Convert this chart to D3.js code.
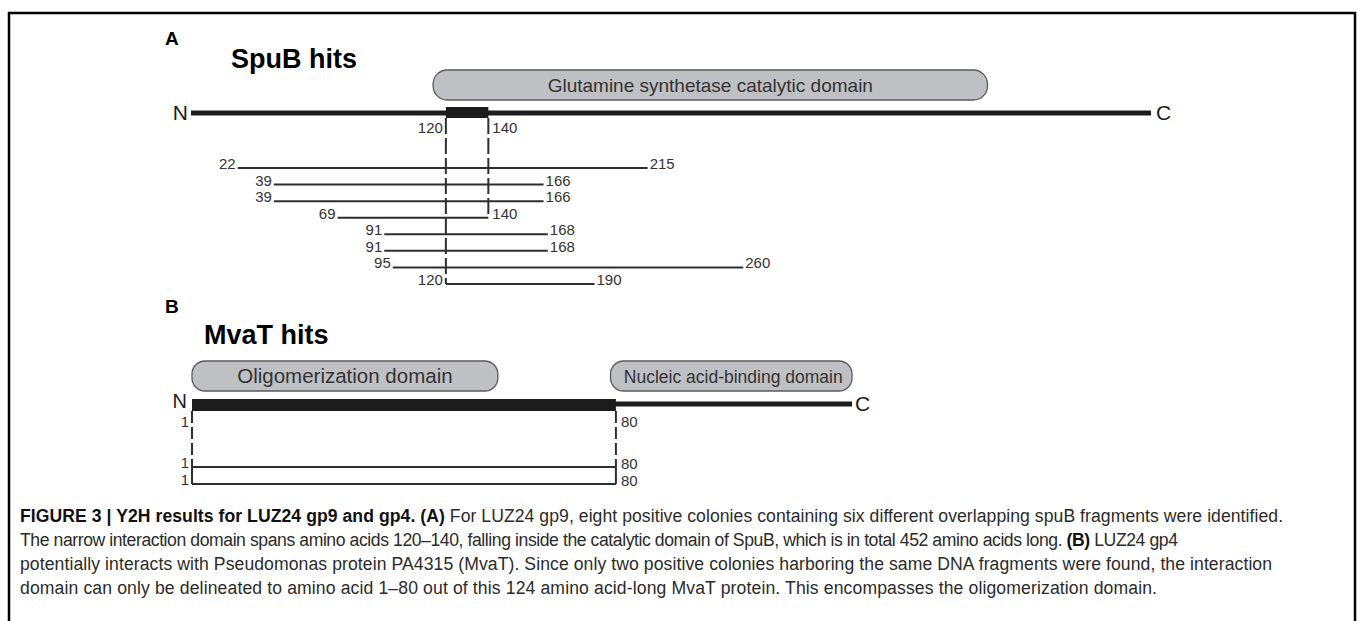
<!DOCTYPE html>
<html>
<head>
<meta charset="utf-8">
<script src="https://cdn.jsdelivr.net/npm/d3@7"></script>
<style>
  body { margin: 0; background: #fff; }
  svg { display: block; }
  text { font-family: "Liberation Sans", Arial, Helvetica, sans-serif; }
</style>
</head>
<body>
<svg id="fig" width="1358" height="621"></svg>
<script>
// ---- SpuB (452 aa) two-hybrid prey fragments ----
const spubLength = 452;
const spubCore = [120, 140];
const spubDomainName = "Glutamine synthetase catalytic domain";
const spubDomainSpan = [114, 375];
const spubFrom = [22, 39, 39, 69, 91, 91, 95, 120];
const spubTo = [215, 166, 166, 140, 168, 168, 260, 190];

// ---- MvaT (124 aa) two-hybrid prey fragments ----
const mvatLength = 124;
const mvatCore = [1, 80];
const mvatDomainNames = ["Oligomerization domain", "Nucleic acid-binding domain"];
const mvatDomainFrom = [1, 79];
const mvatDomainTo = [58, 124];
const mvatFrom = [1, 1];
const mvatTo = [80, 80];

// ---- caption: each line is a list of [text, bold] runs ----
const captionLines = [
  [["FIGURE 3 | Y2H results for LUZ24 gp9 and gp4. (A)", true],
   [" For LUZ24 gp9, eight positive colonies containing six different overlapping spuB fragments were identified.", false]],
  [["The narrow interaction domain spans amino acids 120\u2013140, falling inside the catalytic domain of SpuB, which is in total 452 amino acids long. ", false],
   ["(B)", true], [" LUZ24 gp4", false]],
  [["potentially interacts with Pseudomonas protein PA4315 (MvaT). Since only two positive colonies harboring the same DNA fragments were found, the interaction", false]],
  [["domain can only be delineated to amino acid 1\u201380 out of this 124 amino acid-long MvaT protein. This encompasses the oligomerization domain.", false]]
];
// right edge of each caption line
const captionRight = [1283, 1178, 1272, 1157];

const ink = "#1c1c1c", line = "#2e2e2e", boxFill = "#bfc0c4", boxStroke = "#5a5a5a";
const svg = d3.select("#fig");

// frame around figure
svg.append("path")
  .attr("d", "M9,621V13H1355V621")
  .attr("fill", "none").attr("stroke", "#000").attr("stroke-width", 2.5);

// ================= Panel A =================
const gA = svg.append("g");
const xA = d3.scaleLinear().domain([0, spubLength]).range([191, 1151]);
const yA = d3.scalePoint().domain(d3.range(spubFrom.length)).range([168, 284]);
const backA = 113;
const numSize = 15;

gA.append("text").attr("x", 165).attr("y", 45).attr("font-size", 19).attr("font-weight", 900).attr("fill", "#000").text("A");
gA.append("text").attr("x", 231).attr("y", 68).attr("font-size", 27).attr("font-weight", 700).attr("fill", "#000").text("SpuB hits");

// catalytic domain
gA.append("rect")
  .attr("x", xA(spubDomainSpan[0])).attr("y", 70)
  .attr("width", xA(spubDomainSpan[1]) - xA(spubDomainSpan[0])).attr("height", 30)
  .attr("rx", 14).attr("fill", boxFill).attr("stroke", boxStroke).attr("stroke-width", 1.3);
gA.append("text")
  .attr("x", (xA(spubDomainSpan[0]) + xA(spubDomainSpan[1])) / 2).attr("y", 92)
  .attr("text-anchor", "middle").attr("font-size", 19).attr("fill", "#333").text(spubDomainName);

// backbone
gA.append("line").attr("x1", xA(0)).attr("x2", xA(spubLength)).attr("y1", backA).attr("y2", backA)
  .attr("stroke", ink).attr("stroke-width", 5);
gA.append("rect").attr("x", xA(spubCore[0])).attr("y", backA - 6)
  .attr("width", xA(spubCore[1]) - xA(spubCore[0])).attr("height", 11).attr("fill", ink);
gA.append("text").attr("x", xA(0) - 3).attr("y", 120).attr("text-anchor", "end").attr("font-size", 21).attr("fill", ink).text("N");
gA.append("text").attr("x", xA(spubLength) + 5).attr("y", 120).attr("font-size", 21).attr("fill", ink).text("C");

// interaction core boundaries
const lastCoreRow = spubFrom.findIndex(d => d === spubCore[0]);
const lastEndRow = spubTo.findIndex(d => d === spubCore[1]);
gA.append("line").attr("x1", xA(spubCore[0])).attr("x2", xA(spubCore[0]))
  .attr("y1", backA + 5).attr("y2", yA(lastCoreRow))
  .attr("stroke", line).attr("stroke-width", 2).attr("stroke-dasharray", "16,4");
gA.append("line").attr("x1", xA(spubCore[1])).attr("x2", xA(spubCore[1]))
  .attr("y1", backA + 5).attr("y2", yA(lastEndRow))
  .attr("stroke", line).attr("stroke-width", 2).attr("stroke-dasharray", "16,4");
gA.append("text").attr("x", xA(spubCore[0]) - 3).attr("y", 133).attr("text-anchor", "end")
  .attr("font-size", numSize).attr("fill", "#333").text(spubCore[0]);
gA.append("text").attr("x", xA(spubCore[1]) + 4).attr("y", 133)
  .attr("font-size", numSize).attr("fill", "#333").text(spubCore[1]);

// fragments
const rowsA = gA.selectAll("g.hit").data(spubFrom.map((f, i) => ({ from: f, to: spubTo[i], i })))
  .join("g").attr("class", "hit");
rowsA.append("line")
  .attr("x1", d => xA(d.from)).attr("x2", d => xA(d.to))
  .attr("y1", d => yA(d.i)).attr("y2", d => yA(d.i))
  .attr("stroke", line).attr("stroke-width", 2);
rowsA.append("text")
  .attr("x", d => xA(d.from) - (d.from === spubCore[0] ? 3 : 2)).attr("y", d => yA(d.i) + 1)
  .attr("text-anchor", "end").attr("font-size", numSize).attr("fill", "#333").text(d => d.from);
rowsA.append("text")
  .attr("x", d => xA(d.to) + (d.to === spubCore[1] ? 4 : 2)).attr("y", d => yA(d.i) + 1)
  .attr("font-size", numSize).attr("fill", "#333").text(d => d.to);

// ================= Panel B =================
const gB = svg.append("g");
const xB = d3.scaleLinear().domain([1, mvatLength]).range([192, 852]);
const yB = d3.scalePoint().domain(d3.range(mvatFrom.length)).range([467, 484]);
const backB = 404;

gB.append("text").attr("x", 165).attr("y", 313).attr("font-size", 19).attr("font-weight", 900).attr("fill", "#000").text("B");
gB.append("text").attr("x", 204).attr("y", 344).attr("font-size", 27).attr("font-weight", 700).attr("fill", "#000").text("MvaT hits");

const domB = mvatDomainNames.map((n, i) => ({ name: n, from: mvatDomainFrom[i], to: mvatDomainTo[i], size: i === 0 ? 20.5 : 17.5 }));
gB.selectAll("rect.dom").data(domB).join("rect").attr("class", "dom")
  .attr("x", d => xB(d.from)).attr("y", 361)
  .attr("width", d => xB(d.to) - xB(d.from)).attr("height", 30)
  .attr("rx", 13).attr("fill", boxFill).attr("stroke", boxStroke).attr("stroke-width", 1.3);
gB.selectAll("text.dom").data(domB).join("text").attr("class", "dom")
  .attr("x", d => (xB(d.from) + xB(d.to)) / 2 + (d.size < 19 ? 2 : 0)).attr("y", 383)
  .attr("text-anchor", "middle").attr("font-size", d => d.size).attr("fill", "#333").text(d => d.name);

gB.append("line").attr("x1", xB(1)).attr("x2", xB(mvatLength)).attr("y1", backB).attr("y2", backB)
  .attr("stroke", ink).attr("stroke-width", 5);
gB.append("rect").attr("x", xB(mvatCore[0])).attr("y", backB - 5)
  .attr("width", xB(mvatCore[1]) - xB(mvatCore[0])).attr("height", 12).attr("fill", ink);
gB.append("text").attr("x", xB(1) - 5).attr("y", 408).attr("text-anchor", "end").attr("font-size", 20).attr("fill", ink).text("N");
gB.append("text").attr("x", xB(mvatLength) + 3).attr("y", 411).attr("font-size", 21).attr("fill", ink).text("C");

// core boundaries: dashed down to first fragment, solid bracket below
mvatCore.forEach(v => {
  gB.append("line").attr("x1", xB(v)).attr("x2", xB(v))
    .attr("y1", backB + 7).attr("y2", yB(0))
    .attr("stroke", line).attr("stroke-width", 2).attr("stroke-dasharray", "12,4");
  gB.append("line").attr("x1", xB(v)).attr("x2", xB(v))
    .attr("y1", yB(0)).attr("y2", yB(mvatFrom.length - 1))
    .attr("stroke", line).attr("stroke-width", 2);
});
gB.append("text").attr("x", xB(mvatCore[0]) - 3).attr("y", 427).attr("text-anchor", "end")
  .attr("font-size", numSize).attr("fill", "#333").text(mvatCore[0]);
gB.append("text").attr("x", xB(mvatCore[1]) + 5).attr("y", 427)
  .attr("font-size", numSize).attr("fill", "#333").text(mvatCore[1]);

const rowsB = gB.selectAll("g.hit").data(mvatFrom.map((f, i) => ({ from: f, to: mvatTo[i], i })))
  .join("g").attr("class", "hit");
rowsB.append("line")
  .attr("x1", d => xB(d.from)).attr("x2", d => xB(d.to))
  .attr("y1", d => yB(d.i)).attr("y2", d => yB(d.i))
  .attr("stroke", line).attr("stroke-width", 2);
rowsB.append("text").attr("x", d => xB(d.from) - 3).attr("y", d => yB(d.i) + 1)
  .attr("text-anchor", "end").attr("font-size", numSize).attr("fill", "#333").text(d => d.from);
rowsB.append("text").attr("x", d => xB(d.to) + 5).attr("y", d => yB(d.i) + 2)
  .attr("font-size", numSize).attr("fill", "#333").text(d => d.to);

// ================= Caption =================
// each line is fitted to its right edge by spreading the difference over its letter spacing
const capX = 20, capY0 = 522, capStep = 24;
captionLines.forEach((runs, li) => {
  const t = svg.append("text").attr("x", capX).attr("y", capY0 + li * capStep)
    .attr("font-size", 17.6).attr("fill", "#2b2b2b").attr("xml:space", "preserve");
  runs.forEach(([s, b]) => {
    t.append("tspan").attr("font-weight", b ? 700 : 400).attr("fill", b ? "#111" : "#2b2b2b").text(s);
  });
  const natural = t.node().getComputedTextLength();
  const chars = runs.reduce((n, r) => n + r[0].length, 0);
  const spacing = (captionRight[li] - capX - natural) / Math.max(1, chars - 1);
  t.attr("letter-spacing", spacing.toFixed(3));
});
</script>
</body>
</html>
